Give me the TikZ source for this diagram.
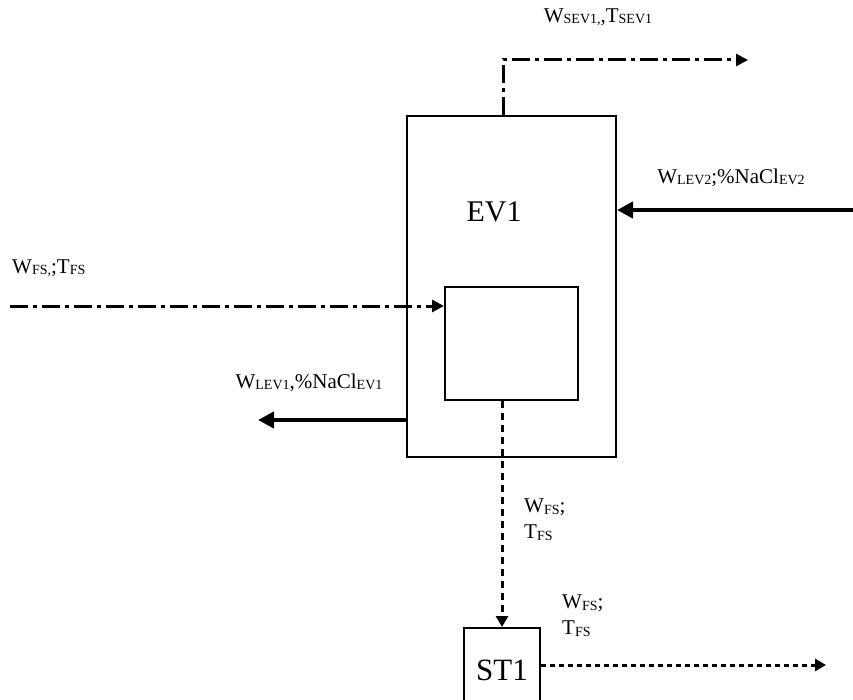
\documentclass[tikz,border=0pt]{standalone}
\usepackage{fontspec}
\setmainfont{Liberation Serif}
\usetikzlibrary{arrows.meta}
\newcommand\sbs[1]{\raisebox{-1.2pt}{\fontsize{14}{14}\selectfont #1}}
\tikzset{
  unit/.style={draw, line width=2pt, inner sep=0pt},
  lbl/.style={inner sep=0pt, font=\fontsize{21}{26}\selectfont, align=left},
  big/.style={inner sep=0pt, font=\fontsize{30}{30}\selectfont},
  thickflow/.style={line width=4.5pt, -{Triangle[length=16pt,width=16pt]}},
  dashdotflow/.style={line width=3pt, dash pattern=on 18pt off 5pt on 4pt off 5pt, -{Triangle[length=12pt,width=12pt]}},
  dotflow/.style={line width=3pt, dash pattern=on 7pt off 5pt, -{Triangle[length=11pt,width=12pt]}},
  dotflowh/.style={line width=3pt, dash pattern=on 5pt off 4pt, -{Triangle[length=11pt,width=12pt]}},
}
\begin{document}
\begin{tikzpicture}[x=1pt,y=-1pt]
\clip (0,0) rectangle (853,700);
% units
\node[unit, minimum width=209pt, minimum height=341pt] (ev1) at (511.5,286.5) {};
\node[big] (ev1t) at (494,212) {EV1};
\node[unit, minimum width=133pt, minimum height=113pt] (hx) at (511.5,343.5) {};
\node[unit, minimum width=76pt, minimum height=84pt, anchor=north, font=\fontsize{31}{31}\selectfont] (st1) at (502,627) {ST1};
% free ends
\coordinate (vapTop) at (503,60);
\coordinate (vapEnd) at (748,60);
\coordinate (lev2In) at (853,210);
\coordinate (fsIn) at (10,306);
\coordinate (lev1Out) at (258,420);
\coordinate (stOut) at (826,665);
% connectors
\draw[dashdotflow] (ev1.north -| vapTop) -- (vapTop) -- (vapEnd);
\draw[thickflow] (lev2In) -- (lev2In -| ev1.east);
\draw[dashdotflow] (fsIn) -- (fsIn -| hx.west);
\draw[thickflow] (lev1Out -| ev1.west) -- (lev1Out);
\draw[dotflow] (hx.south -| st1.north) -- (st1.north);
\draw[dotflowh] (stOut -| st1.east) -- (stOut);
% labels
\node[lbl] (l1) at (598,17) {W\sbs{SEV1,},T\sbs{SEV1}};
\node[lbl] (l2) at (731,178) {W\sbs{LEV2};\%NaCl\sbs{EV2}};
\node[lbl, anchor=west] (l3) at (12,268) {W\sbs{FS,};T\sbs{FS}};
\node[lbl] (l4) at (309,383) {W\sbs{LEV1},\%NaCl\sbs{EV1}};
\node[lbl, anchor=north west] (l5) at (524,499) {W\sbs{FS};\\T\sbs{FS}};
\node[lbl, anchor=north west] (l6) at (562,595) {W\sbs{FS};\\T\sbs{FS}};
\end{tikzpicture}
\end{document}
